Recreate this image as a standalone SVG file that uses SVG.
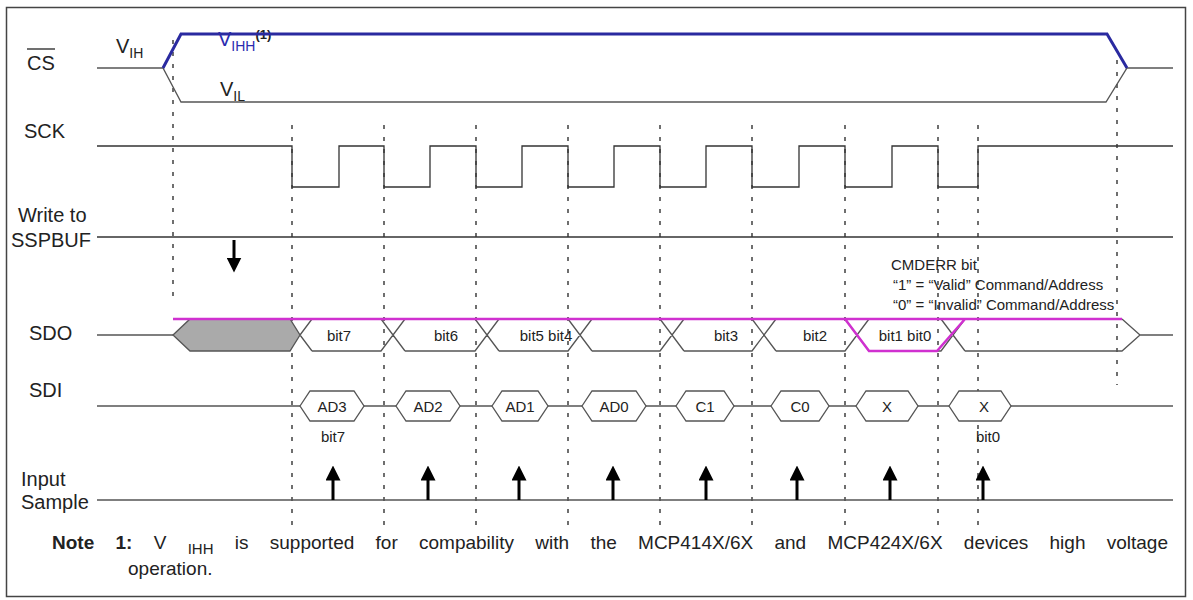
<svg xmlns="http://www.w3.org/2000/svg" width="1193" height="600" viewBox="0 0 1193 600">
<style>
text{font-family:"Liberation Sans",Arial,sans-serif;fill:#222}
.lbl{font-size:20px}
.sm{font-size:15px}
.w{fill:none;stroke:#333;stroke-width:1.3}
.g{fill:none;stroke:#555;stroke-width:1.3}
.d{stroke:#222;stroke-width:1.3;stroke-dasharray:4,8}
.hx{fill:#fff;stroke:#555;stroke-width:1.3}
.ar{stroke:#000;stroke-width:3}
</style>
<defs>
<marker id="ah" viewBox="0 0 10 10" refX="3" refY="5" markerWidth="5" markerHeight="5" markerUnits="strokeWidth" orient="auto"><path d="M0,0L10,5L0,10z" fill="#000"/></marker>
</defs>
<rect x="6.5" y="7.5" width="1179" height="589" fill="#fff" stroke="#444" stroke-width="1.5"/>
<g id="guides">
<line class="d" x1="173" y1="40" x2="173" y2="300"/>
<line class="d" x1="292" y1="125" x2="292" y2="530"/>
<line class="d" x1="384" y1="125" x2="384" y2="530"/>
<line class="d" x1="476" y1="125" x2="476" y2="530"/>
<line class="d" x1="568" y1="125" x2="568" y2="530"/>
<line class="d" x1="660" y1="125" x2="660" y2="530"/>
<line class="d" x1="752" y1="125" x2="752" y2="530"/>
<line class="d" x1="845" y1="125" x2="845" y2="530"/>
<line class="d" x1="938" y1="125" x2="938" y2="530"/>
<line class="d" x1="978" y1="125" x2="978" y2="530"/>
<line class="d" x1="1117" y1="60" x2="1117" y2="385"/>
</g>
<g id="labels">
<text class="lbl" x="27" y="70">CS</text>
<line x1="27" y1="49" x2="55" y2="49" stroke="#222" stroke-width="1.3"/>
<text class="lbl" x="116" y="53">V<tspan font-size="14" dy="5">IH</tspan></text>
<text class="lbl" x="218" y="46" style="fill:#2a2ab0">V<tspan font-size="14" dy="5" style="fill:#2a2ab0">IHH</tspan><tspan font-size="13" dy="-12" font-weight="bold" style="fill:#222">(1)</tspan></text>
<text class="lbl" x="220" y="96">V<tspan font-size="14" dy="5">IL</tspan></text>
<text class="lbl" x="24" y="138">SCK</text>
<text class="lbl" x="18" y="222">Write to</text>
<text class="lbl" x="11" y="247">SSPBUF</text>
<text class="lbl" x="29" y="340">SDO</text>
<text class="lbl" x="29" y="397">SDI</text>
<text class="lbl" x="21" y="486">Input</text>
<text class="lbl" x="21" y="509">Sample</text>
</g>
<g id="cs">
<path class="g" d="M97,68H163L181,102H1106L1127,68H1173"/>
<path d="M163,68L181,34H1107L1127,68" fill="none" stroke="#2a2aa0" stroke-width="3"/>
</g>
<g id="sck">
<path class="w" d="M97,146H292V187H339V146H384V187H430V146H476V187H522V146H568V187H614V146H660V187H706V146H752V187H799V146H845V187H892V146H938V187H978V146H1173"/>
</g>
<g id="sspbuf">
<line class="w" x1="97" y1="237" x2="1173" y2="237"/>
<line class="ar" x1="234" y1="240" x2="234" y2="262" marker-end="url(#ah)"/>
</g>
<g id="sdo">
<line class="g" x1="97" y1="335" x2="173" y2="335"/>
<path d="M173,335L190,319H290L300,335L290,351H190Z" fill="#aaa" stroke="#555" stroke-width="1.3"/>
<path class="g" d="M300,335L312,319M300,335L312,351M312,351H381L405,319M381,319L405,351M405,351H475L499,319M475,319L499,351M499,351H568L592,319M568,319L592,351M592,351H660L684,319M660,319L684,351M684,351H752L776,319M752,319L776,351M776,351H845L869,319M845,319L869,351M869,351H941L965,319M941,319L965,351M965,351H1122L1140,335L1122,319M1140,335H1173"/>
<path d="M173,319H1122M845,319L869,351H937L965,319" fill="none" stroke="#d030d0" stroke-width="2.5"/>
<text class="sm" x="339" y="341" text-anchor="middle">bit7</text>
<text class="sm" x="446" y="341" text-anchor="middle">bit6</text>
<text class="sm" x="546" y="341" text-anchor="middle">bit5 bit4</text>
<text class="sm" x="726" y="341" text-anchor="middle">bit3</text>
<text class="sm" x="815" y="341" text-anchor="middle">bit2</text>
<text class="sm" x="905" y="341" text-anchor="middle">bit1 bit0</text>
<text class="sm" x="891" y="270">CMDERR bit</text>
<text class="sm" x="893" y="290">“1” = “Valid” Command/Address</text>
<text class="sm" x="893" y="310">“0” = “Invalid” Command/Address</text>
</g>
<g id="sdi">
<line class="g" x1="97" y1="406" x2="1173" y2="406"/>
<path class="hx" d="M300,406l10,-15h44l10,15l-10,15h-44z"/>
<path class="hx" d="M396,406l10,-15h44l10,15l-10,15h-44z"/>
<path class="hx" d="M492,406l10,-15h36l10,15l-10,15h-36z"/>
<path class="hx" d="M582,406l10,-15h44l10,15l-10,15h-44z"/>
<path class="hx" d="M676,406l10,-15h38l10,15l-10,15h-38z"/>
<path class="hx" d="M771,406l10,-15h38l10,15l-10,15h-38z"/>
<path class="hx" d="M856,406l10,-15h42l10,15l-10,15h-42z"/>
<path class="hx" d="M949,406l10,-15h42l10,15l-10,15h-42z"/>
<text class="sm" x="332" y="412" text-anchor="middle">AD3</text>
<text class="sm" x="428" y="412" text-anchor="middle">AD2</text>
<text class="sm" x="520" y="412" text-anchor="middle">AD1</text>
<text class="sm" x="614" y="412" text-anchor="middle">AD0</text>
<text class="sm" x="705" y="412" text-anchor="middle">C1</text>
<text class="sm" x="800" y="412" text-anchor="middle">C0</text>
<text class="sm" x="887" y="412" text-anchor="middle">X</text>
<text class="sm" x="984" y="412" text-anchor="middle">X</text>
<text class="sm" x="333" y="442" text-anchor="middle">bit7</text>
<text class="sm" x="988" y="442" text-anchor="middle">bit0</text>
</g>
<g id="input">
<line class="g" x1="97" y1="500" x2="1173" y2="500"/>
<line class="ar" x1="333" y1="500" x2="333" y2="476" marker-end="url(#ah)"/>
<line class="ar" x1="428" y1="500" x2="428" y2="476" marker-end="url(#ah)"/>
<line class="ar" x1="519" y1="500" x2="519" y2="476" marker-end="url(#ah)"/>
<line class="ar" x1="613" y1="500" x2="613" y2="476" marker-end="url(#ah)"/>
<line class="ar" x1="706" y1="500" x2="706" y2="476" marker-end="url(#ah)"/>
<line class="ar" x1="797" y1="500" x2="797" y2="476" marker-end="url(#ah)"/>
<line class="ar" x1="890" y1="500" x2="890" y2="476" marker-end="url(#ah)"/>
<line class="ar" x1="983" y1="500" x2="983" y2="476" marker-end="url(#ah)"/>
</g>
<g id="note">
<text x="52" y="549" style="font-size:19px;word-spacing:16px"><tspan font-weight="bold">Note 1:</tspan> V <tspan font-size="15" dy="5">IHH</tspan><tspan dy="-5"> is supported for compability with the MCP414X/6X and MCP424X/6X devices high voltage</tspan></text>
<text x="128" y="575" style="font-size:19px">operation.</text>
</g>
</svg>
